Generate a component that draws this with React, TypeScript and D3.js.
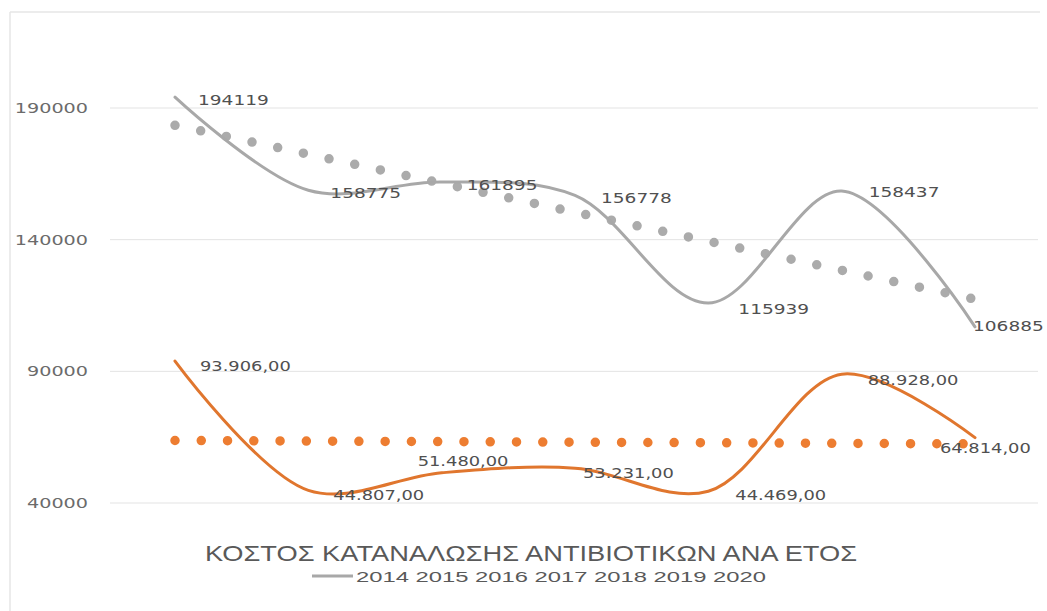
import React from "react";
import * as d3 from "d3";

const years = ["2014", "2015", "2016", "2017", "2018", "2019", "2020"];
const grayValues = [194119, 158775, 161895, 156778, 115939, 158437, 106885];
const orangeValues = [93906, 44807, 51480, 53231, 44469, 88928, 64814];
const yTicks = [40000, 90000, 140000, 190000];
const grayLabels = ["194119", "158775", "161895", "156778", "115939", "158437", "106885"];
const orangeLabels = ["93.906,00", "44.807,00", "51.480,00", "53.231,00", "44.469,00", "88.928,00", "64.814,00"];
const title = "ΚΟΣΤΟΣ ΚΑΤΑΝΑΛΩΣΗΣ  ΑΝΤΙΒΙΟΤΙΚΩΝ ΑΝΑ  ΕΤΟΣ";
const legendText = "2014 2015  2016 2017 2018  2019 2020";

// layout-only label offsets (dx, dy) relative to points
const grayLabelOffsets = [[23, 3], [22, 3], [25, 3], [26, 3], [30, 6], [27, 1], [-2, -1]];
const orangeLabelOffsets = [[25, 5], [25, 5], [-24, -12], [8, 5], [27, 4], [26, 6], [-35, 10]];

const W = 1047;
const H = 611;

function trend(vals: number[]): [number, number] {
  const n = vals.length;
  const mx = (n - 1) / 2;
  const my = d3.mean(vals) as number;
  let num = 0, den = 0;
  vals.forEach((v, i) => { num += (i - mx) * (v - my); den += (i - mx) * (i - mx); });
  const slope = num / den;
  return [my - slope * mx, my - slope * mx + slope * (n - 1)];
}

function textLen(s: string, digitW: number, punctW: number) {
  let w = 0;
  for (const c of s) w += /[0-9]/.test(c) ? digitW : punctW;
  return w;
}

export default function App() {
  const x = d3.scalePoint<string>().domain(years).range([175, 975]);
  const y = d3.scaleLinear().domain([40000, 190000]).range([503, 108]);
  const line = d3
    .line<number>()
    .x((_, i) => x(years[i]) as number)
    .y((d) => y(d))
    .curve(d3.curveCatmullRom.alpha(0.5));

  const gt = trend(grayValues);
  const ot = trend(orangeValues);
  const x0 = x(years[0]) as number;
  const x1 = x(years[years.length - 1]) as number;

  const labelFont = "'DejaVu Sans', Verdana, sans-serif";

  return (
    <svg width={W} height={H} style={{ position: "absolute", left: 0, top: 0, background: "#fff" }}>
      <rect x={0} y={0} width={W} height={H} fill="#fff" />
      <line x1={10} y1={12} x2={1040} y2={12} stroke="#e6e6e6" strokeWidth={1.5} />
      <line x1={10} y1={12} x2={10} y2={611} stroke="#e6e6e6" strokeWidth={1.5} />
      {yTicks.map((t) => (
        <g key={t}>
          <line x1={110} x2={1038} y1={y(t)} y2={y(t)} stroke="#e3e3e3" strokeWidth={1} />
          <text x={88} y={y(t) + 5} textAnchor="end" fontSize={14} fill="#6b6b6b" fontFamily={labelFont}
            textLength={textLen(String(t), 12.2, 5)} lengthAdjust="spacingAndGlyphs">
            {t}
          </text>
        </g>
      ))}
      {/* trendlines */}
      <line x1={x0} x2={x1} y1={y(gt[0])} y2={y(gt[1])} stroke="#ababab" strokeWidth={9.5}
        strokeLinecap="round" strokeDasharray="0 26.27" />
      <line x1={x0} x2={x1} y1={y(ot[0])} y2={y(ot[1])} stroke="#ED7D31" strokeWidth={9.5}
        strokeLinecap="round" strokeDasharray="0 26.27" />
      {/* series lines */}
      <path d={line(grayValues) || ""} fill="none" stroke="#a8a8a8" strokeWidth={3} strokeLinecap="round" />
      <path d={line(orangeValues) || ""} fill="none" stroke="#E0762E" strokeWidth={3} strokeLinecap="round" />
      {/* labels */}
      {grayValues.map((v, i) => (
        <text key={"g" + i} x={(x(years[i]) as number) + grayLabelOffsets[i][0]} y={y(v) + grayLabelOffsets[i][1] + 5}
          fontSize={14.5} fill="#505050" fontFamily={labelFont}
          textLength={textLen(grayLabels[i], 11.8, 5.5)} lengthAdjust="spacingAndGlyphs">
          {grayLabels[i]}
        </text>
      ))}
      {orangeValues.map((v, i) => (
        <text key={"o" + i} x={(x(years[i]) as number) + orangeLabelOffsets[i][0]} y={y(v) + orangeLabelOffsets[i][1] + 5}
          fontSize={14.5} fill="#505050" fontFamily={labelFont}
          textLength={textLen(orangeLabels[i], 11.4, 5.5)} lengthAdjust="spacingAndGlyphs">
          {orangeLabels[i]}
        </text>
      ))}
      {/* title */}
      <text x={531} y={561} textAnchor="middle" fontSize={22} fill="#595959"
        fontFamily="'Liberation Sans', Arial, sans-serif" textLength={652} lengthAdjust="spacingAndGlyphs">
        {title}
      </text>
      {/* legend */}
      <line x1={312} x2={353} y1={576} y2={576} stroke="#a8a8a8" strokeWidth={3} />
      <text x={356} y={582} fontSize={15.5} fill="#595959"
        fontFamily="'Liberation Sans', Arial, sans-serif" textLength={410} lengthAdjust="spacingAndGlyphs">
        {legendText}
      </text>
    </svg>
  );
}
